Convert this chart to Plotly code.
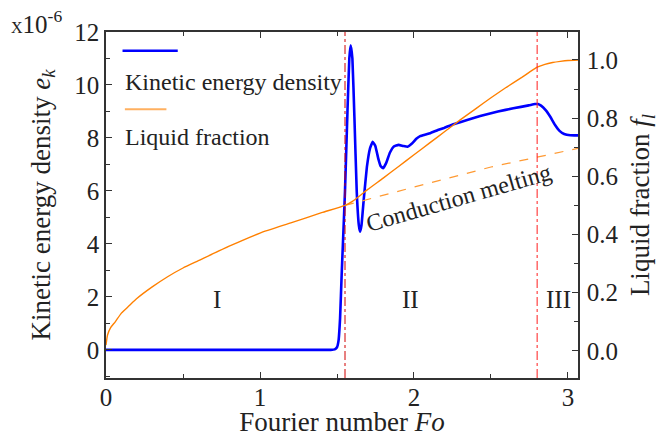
import plotly.graph_objects as go

# ---- data ----
fo_ke = [0, 1.46, 1.485, 1.50, 1.51, 1.52, 1.53, 1.537, 1.552, 1.568, 1.58, 1.589, 1.60,
         1.613, 1.628, 1.642, 1.65, 1.659, 1.674, 1.694, 1.714, 1.732, 1.749, 1.769, 1.784,
         1.80, 1.819, 1.844, 1.869, 1.90, 1.93, 1.958, 1.985, 2.015, 2.04, 2.075, 2.105,
         2.155, 2.195, 2.255, 2.345, 2.43, 2.545, 2.645, 2.745, 2.785, 2.805, 2.825, 2.855,
         2.885, 2.915, 2.945, 2.975, 3.015, 3.1]
ke = [0, 0, 0.02, 0.1, 0.35, 1.2, 2.8, 3.8, 6.0, 9.0, 11.0, 11.5, 11.0,
      8.8, 6.0, 4.7, 4.46, 4.7, 5.7, 6.9, 7.6, 7.86, 7.7, 7.2, 6.93,
      6.86, 7.05, 7.45, 7.68, 7.74, 7.70, 7.67, 7.78, 7.97, 8.07, 8.13, 8.18,
      8.3, 8.38, 8.52, 8.68, 8.83, 9.0, 9.12, 9.23, 9.28, 9.28, 9.22, 9.05,
      8.8, 8.5, 8.27, 8.15, 8.1, 8.1]

fo_lf = [0, 0.005, 0.01, 0.03, 0.06, 0.1, 0.15, 0.2, 0.3, 0.4, 0.5, 0.6, 0.8, 1.0,
         1.2, 1.4, 1.552, 1.6, 1.65, 1.7, 1.8, 1.9, 2.0, 2.1, 2.2, 2.3, 2.4, 2.5,
         2.6, 2.7, 2.75, 2.8, 2.85, 2.9, 2.95, 3.0, 3.1]
lf = [0.02, 0.04, 0.055, 0.08, 0.10, 0.13, 0.155, 0.18, 0.22, 0.255, 0.285, 0.31,
      0.36, 0.405, 0.44, 0.475, 0.50, 0.514, 0.534, 0.555, 0.594, 0.634, 0.674,
      0.714, 0.754, 0.794, 0.832, 0.87, 0.906, 0.94, 0.958, 0.975, 0.985, 0.991,
      0.995, 0.998, 1.0]

fo_cond = [1.552, 1.7, 2.0, 2.5, 3.0, 3.1]
lf_cond = [0.50, 0.52, 0.563, 0.632, 0.69, 0.70]

stage_bounds = [1.552, 2.80]
stage_labels = ["I", "II", "III"]
stage_label_x = [0.72, 1.98, 2.94]
stage_label_y = [1.9, 1.9, 1.9]

x_ticks = [0, 1, 2, 3]
y_ticks = [0, 2, 4, 6, 8, 10, 12]
y2_ticks = [0.0, 0.2, 0.4, 0.6, 0.8, 1.0]

FONT = "'Liberation Serif', 'Times New Roman', Times, serif"
TXT = "#222222"
AX = "#333333"

fig = go.Figure()
fig.add_trace(go.Scatter(x=fo_cond, y=lf_cond, mode="lines", yaxis="y2",
                         line=dict(color="#FF9A33", width=1.2, dash="dash"),
                         showlegend=False))
fig.add_trace(go.Scatter(x=fo_lf, y=lf, mode="lines", yaxis="y2",
                         line=dict(color="#FF8000", width=1.4, shape="spline", smoothing=0.5),
                         showlegend=False))
fig.add_trace(go.Scatter(x=fo_ke, y=ke, mode="lines",
                         line=dict(color="#0000FF", width=2.6, shape="spline", smoothing=0.3),
                         showlegend=False))

# stage boundaries
fig.add_shape(type="line", xref="x", yref="paper", x0=stage_bounds[0], x1=stage_bounds[0],
              y0=0, y1=1, line=dict(color="#D00000", width=1, dash="dashdot"))
fig.add_shape(type="line", xref="x", yref="paper", x0=stage_bounds[1], x1=stage_bounds[1],
              y0=0, y1=1, line=dict(color="rgba(255,40,40,0.75)", width=1.4, dash="dashdot"))

# stage labels
for lab, xx, yy in zip(stage_labels, stage_label_x, stage_label_y):
    fig.add_annotation(x=xx, y=yy, xref="x", yref="y", text=lab, showarrow=False,
                       font=dict(family=FONT, size=25, color=TXT))

fig.add_annotation(x=2.286, y=5.74, xref="x", yref="y", text="Conduction melting",
                   showarrow=False, textangle=-16,
                   font=dict(family=FONT, size=24, color=TXT))

# legend (MATLAB style: sample above text)
fig.add_shape(type="line", xref="paper", yref="paper", x0=0.035, x1=0.152, y0=0.946, y1=0.946,
              line=dict(color="#0000FF", width=2.6))
fig.add_annotation(x=0.036, y=0.856, xref="paper", yref="paper", text="Kinetic energy density",
                   showarrow=False, xanchor="left", yanchor="middle",
                   font=dict(family=FONT, size=24, color=TXT))
fig.add_shape(type="line", xref="paper", yref="paper", x0=0.040, x1=0.128, y0=0.777, y1=0.777,
              line=dict(color="#FFB060", width=2))
fig.add_annotation(x=0.036, y=0.697, xref="paper", yref="paper", text="Liquid fraction",
                   showarrow=False, xanchor="left", yanchor="middle",
                   font=dict(family=FONT, size=24, color=TXT))

# exponent label
fig.add_annotation(x=-0.205, y=1.03, xref="paper", yref="paper",
                   text="<span style='font-size:16px'>X</span>10<sup>-6</sup>",
                   showarrow=False, xanchor="left", yanchor="middle",
                   font=dict(family=FONT, size=25, color=TXT))

fig.update_layout(
    width=659, height=437,
    margin=dict(l=106, r=81, t=32, b=59, autoexpand=False),
    paper_bgcolor="white", plot_bgcolor="white",
    showlegend=False,
    font=dict(family=FONT, color=TXT),
    xaxis=dict(range=[0, 3.065], tickvals=x_ticks, ticks="inside", ticklen=6, tickwidth=1.2,
               tickcolor=AX, showline=True, linecolor=AX, linewidth=1.5, mirror="ticks",
               showgrid=False, zeroline=False, ticklabelstandoff=-4, automargin=True,
               minor=dict(dtick=0.5, ticks="inside", ticklen=4, tickcolor=AX),
               tickfont=dict(family=FONT, size=25, color=TXT),
               title=dict(text="Fourier number <i>Fo</i>", font=dict(family=FONT, size=27, color=TXT),
                          standoff=2)),
    yaxis=dict(range=[-1.06, 12], tickvals=y_ticks, ticks="inside", ticklen=6, tickwidth=1.2,
               tickcolor=AX, showline=True, linecolor=AX, linewidth=1.5, automargin=True,
               showgrid=False, zeroline=False, ticklabelstandoff=0,
               minor=dict(dtick=1, ticks="inside", ticklen=4, tickcolor=AX),
               tickfont=dict(family=FONT, size=25, color=TXT),
               title=dict(text="Kinetic energy density <i>e<sub>k</sub></i>",
                          font=dict(family=FONT, size=27, color=TXT), standoff=16)),
    yaxis2=dict(range=[-0.093, 1.096], overlaying="y", side="right", tickvals=y2_ticks,
                tickformat=".1f", ticks="inside", ticklen=6, tickwidth=1.2, tickcolor=AX,
                showline=True, linecolor=AX, linewidth=1.5, showgrid=False, zeroline=False,
                ticklabelstandoff=2, automargin=True,
                minor=dict(dtick=0.1, ticks="inside", ticklen=4, tickcolor=AX),
                tickfont=dict(family=FONT, size=25, color=TXT),
                title=dict(text="Liquid fraction <i>f<sub>l</sub></i>",
                           font=dict(family=FONT, size=27, color=TXT), standoff=14)),
)

fig.write_html("out.html")
